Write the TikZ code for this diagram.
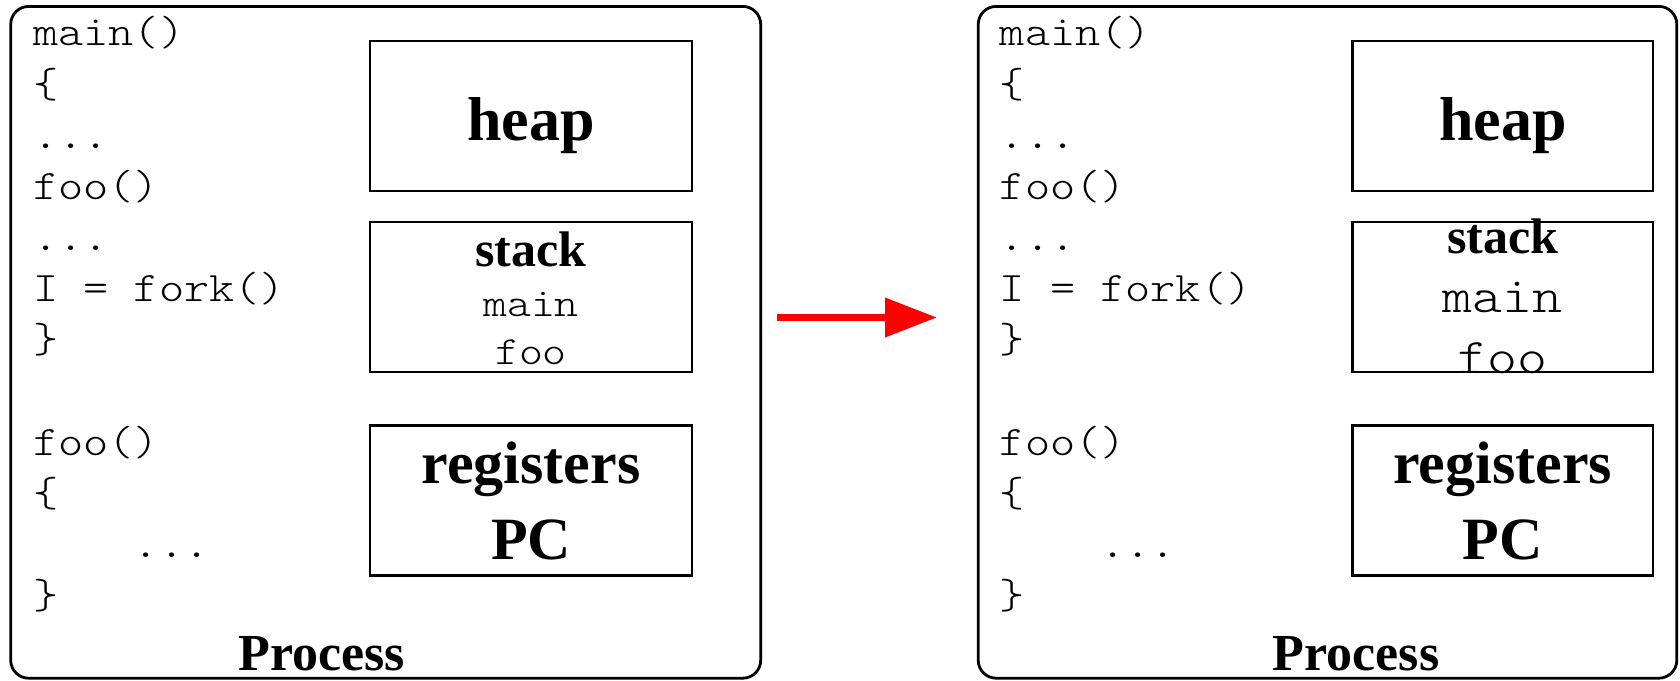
\documentclass[tikz,border=0pt]{standalone}
\usepackage{fontspec}
\setmainfont{Liberation Serif}
\newfontfamily\codefont[FakeStretch=1.14]{lmmonolt10-regular.otf}
\usetikzlibrary{arrows.meta}
\definecolor{forkred}{RGB}{255,0,0}
\tikzset{
  procbox/.style={draw, line width=1.4pt, rounded corners=9pt, inner sep=0pt, outer sep=0pt},
  membox/.style={draw, line width=1.2pt, inner sep=0pt, outer sep=0pt, minimum height=75pt},
  code/.style={anchor=base west, inner sep=0pt, font={\fontsize{21pt}{25pt}\codefont}},
  bigcode/.style={anchor=base, inner sep=0pt, font={\fontsize{25pt}{30pt}\codefont}},
  midcode/.style={anchor=base, inner sep=0pt, font={\fontsize{20pt}{24pt}\codefont}},
  label/.style={anchor=base, inner sep=0pt, font={\fontsize{#1}{#1}\selectfont\bfseries}},
  label/.default=30pt,
  forkarrow/.style={draw=forkred, line width=3.5pt,
    -{Triangle[length=26pt, width=19pt, fill=forkred]}}
}
\begin{document}
\begin{tikzpicture}[x=0.5pt, y=-0.5pt]
\useasboundingbox (0,0) rectangle (1680,680);

% the two process outlines
\node[procbox, minimum width=375pt, minimum height=335.9pt] (procL) at (385.7,342.3) {};
\node[procbox, minimum width=349.3pt, minimum height=335.9pt] (procR) at (1327.5,342.3) {};

% memory areas of the parent
\node[membox, minimum width=161pt] (heapL) at (531,116) {};
\node[membox, minimum width=161pt] (stackL) at (531,296.75) {};
\node[membox, minimum width=161pt] (regsL) at (531,500.5) {};

% memory areas of the child
\node[membox, minimum width=150.2pt] (heapR) at (1502.8,116) {};
\node[membox, minimum width=150.2pt] (stackR) at (1502.8,296.75) {};
\node[membox, minimum width=150.2pt] (regsR) at (1502.8,500.5) {};

% program text in both processes
\foreach \side/\ox in {L/0,R/966.5}{
  \node[code] (\side-c0) at (33+\ox,46) {main()};
  \node[code] (\side-c1) at (33+\ox,97) {\{};
  \node[code] (\side-c2) at (33+\ox,148) {...};
  \node[code] (\side-c3) at (33+\ox,199) {foo()};
  \node[code] (\side-c4) at (33+\ox,250) {...};
  \node[code] (\side-c5) at (33+\ox,301) {I = fork()};
  \node[code] (\side-c6) at (33+\ox,352) {\}};
  \node[code] (\side-c7) at (33+\ox,455) {foo()};
  \node[code] (\side-c8) at (33+\ox,506) {\{};
  \node[code] (\side-c9) at (33+\ox,557) {\hphantom{xxxx}...};
  \node[code] (\side-c10) at (33+\ox,608) {\}};
}

% labels of the parent
\node[label=31pt] (heapLt) at (531,140.5) {heap};
\node[label=25pt] (stackLt) at (531,266) {stack};
\node[midcode] (mainL) at (531,316.5) {main};
\node[midcode] (fooL) at (531,364.5) {foo};
\node[label=30pt] (regLt) at (531,483.5) {registers};
\node[label=30pt] (pcL) at (531,559) {PC};
\node[label=26pt] (nameL) at (321.8,670) {Process};

% labels of the child
\node[label=31pt] (heapRt) at (1502.8,140.5) {heap};
\node[label=25pt] (stackRt) at (1502.8,253.4) {stack};
\node[bigcode] (mainR) at (1502.8,312) {main};
\node[bigcode] (fooR) at (1502.8,373) {foo};
\node[label=30pt] (regRt) at (1502.8,483.5) {registers};
\node[label=30pt] (pcR) at (1502.8,559) {PC};
\node[label=26pt] (nameR) at (1356,670) {Process};

% fork arrow
\coordinate (forkS) at (777,317.5);
\coordinate (forkE) at (937,317.5);
\draw[forkarrow] (forkS) -- (forkE);
\end{tikzpicture}
\end{document}
